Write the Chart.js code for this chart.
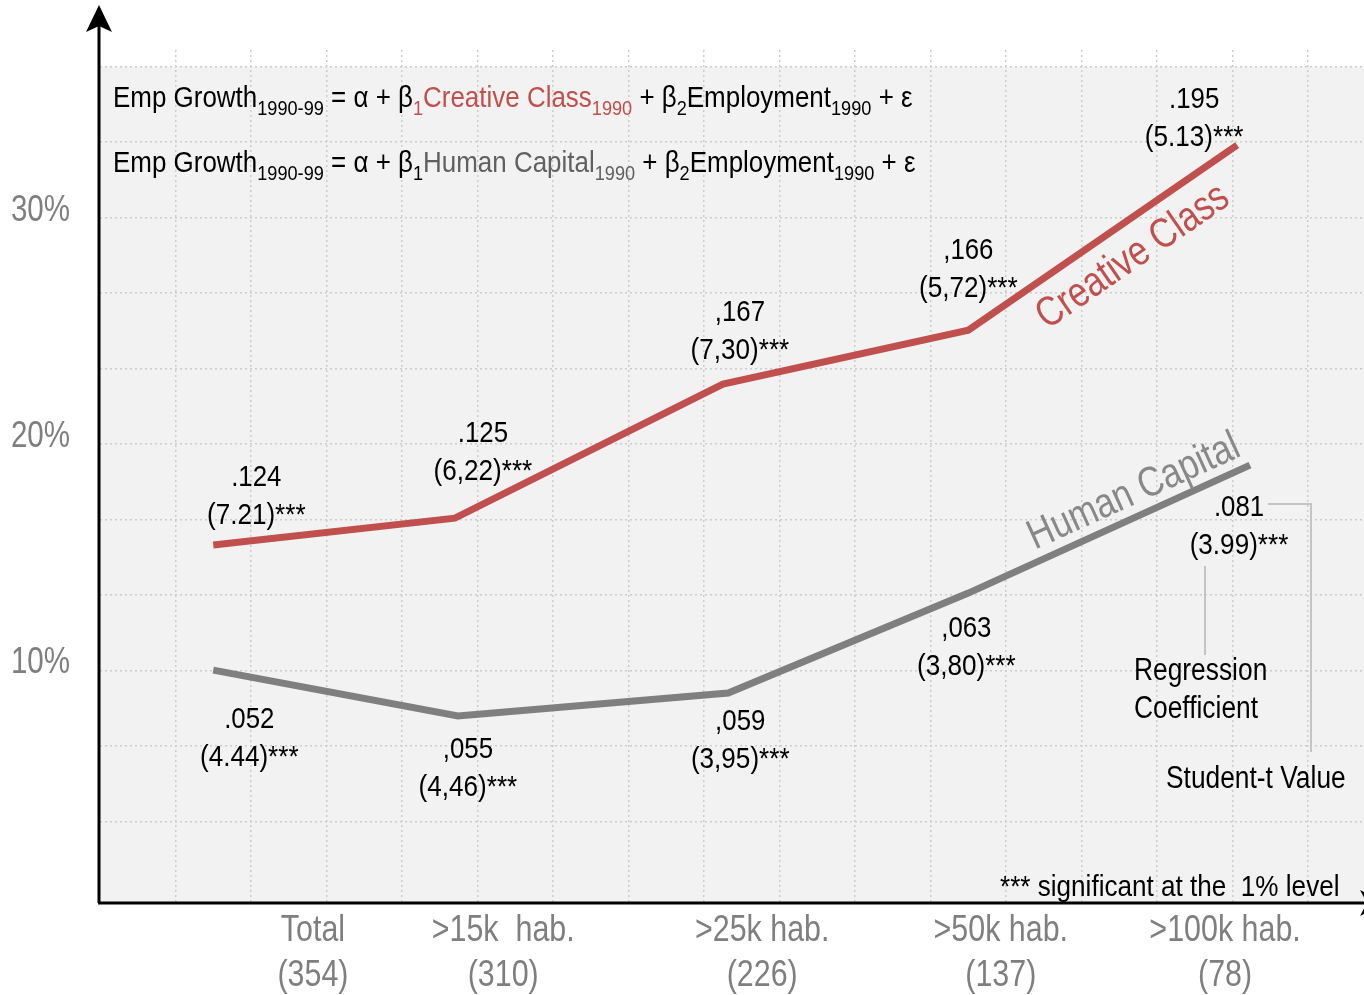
<!DOCTYPE html>
<html><head><meta charset="utf-8">
<script src="https://cdn.jsdelivr.net/npm/chart.js@4.4.1/dist/chart.umd.min.js"></script>
<style>html,body{margin:0;padding:0;background:#fff}</style>
</head><body>
<canvas id="c" width="1364" height="995"></canvas>
<script>
// ---------- data ----------
const creativeX = [1.50, 4.70, 8.25, 11.50, 15.06];
const creativeY = [15.54, 16.73, 22.65, 25.03, 33.20];
const humanX = [1.50, 4.74, 8.32, 11.50, 15.23];
const humanY = [10.02, 7.99, 9.01, 13.42, 19.07];
const creativeCoef = ['.124', '.125', ',167', ',166', '.195'];
const creativeT = ['(7.21)***', '(6,22)***', '(7,30)***', '(5,72)***', '(5.13)***'];
const humanCoef = ['.052', ',055', ',059', ',063', '.081'];
const humanT = ['(4.44)***', '(4,46)***', '(3,95)***', '(3,80)***', '(3.99)***'];
const categories = [['Total', '(354)'], ['>15k  hab.', '(310)'], ['>25k hab.', '(226)'], ['>50k hab.', '(137)'], ['>100k hab.', '(78)']];
const categoryX = [2.82, 5.34, 8.77, 11.93, 14.90];
const yLabelValues = [10, 20, 30];

// ---------- style / layout ----------
const FONT = '"Liberation Sans", Arial, sans-serif';
const RED = '#c0504d', GREY = '#7f7f7f', GRID = '#cccccc';
const creativeOff = [[43, -67], [28, -84], [17, -71], [0, -79], [-43, -45]];
const humanOff = [[36, 50], [10, 34], [12, 29], [-2, 36], [-11, 43]];
const X_MAX = 16.74, Y_MIN = -0.265, Y_MAX = 37.40, GRID_STEP = 10 / 3;

function txt(ctx, s, x, y, size, color, align, base, narrow) {
  ctx.save();
  ctx.font = size + 'px ' + FONT;
  ctx.fillStyle = color;
  ctx.textAlign = align || 'center';
  ctx.textBaseline = base || 'middle';
  ctx.translate(x, y);
  ctx.scale(narrow || 0.82, 1);
  ctx.fillText(s, 0, 0);
  ctx.restore();
}
function width(ctx, s, size, narrow) {
  ctx.font = size + 'px ' + FONT;
  return ctx.measureText(s).width * narrow;
}

function equation(ctx, x, y, segs) {
  const N = 0.865;
  let cx = x;
  segs.forEach(([s, col, sub]) => {
    const size = sub ? 21 : 30;
    txt(ctx, s, cx, sub ? y + 8 : y, size, col, 'left', 'alphabetic', N);
    cx += width(ctx, s, size, N);
  });
}

const bgPlugin = {
  id: 'bg',
  beforeDraw(chart) {
    const { ctx, chartArea: a, scales } = chart;
    const top = scales.y.getPixelForValue(11 * GRID_STEP);
    ctx.save();
    ctx.fillStyle = '#f2f2f2';
    ctx.fillRect(a.left, top, a.right - a.left, a.bottom - top);
    ctx.restore();
  }
};

const annoPlugin = {
  id: 'anno',
  afterDatasetsDraw(chart) {
    const { ctx, scales } = chart;
    const xs = scales.x, ys = scales.y;
    ctx.save();
    // axes with arrows
    ctx.strokeStyle = '#000'; ctx.fillStyle = '#000'; ctx.lineWidth = 3;
    ctx.beginPath(); ctx.moveTo(99, 903); ctx.lineTo(99, 26); ctx.stroke();
    ctx.beginPath(); ctx.moveTo(99, 5); ctx.lineTo(112, 32); ctx.lineTo(99, 26); ctx.lineTo(86, 32); ctx.closePath(); ctx.fill();
    ctx.beginPath(); ctx.moveTo(98, 903); ctx.lineTo(1375, 903); ctx.stroke();
    ctx.beginPath(); ctx.moveTo(1387, 903); ctx.lineTo(1360, 890); ctx.lineTo(1367, 903); ctx.lineTo(1360, 916); ctx.closePath(); ctx.fill();

    // axis tick labels (positions from the scales)
    yLabelValues.forEach(v => txt(ctx, v + '%', 70, ys.getPixelForValue(v) - 7, 36, GREY, 'right'));
    categories.forEach((c, i) => {
      const px = xs.getPixelForValue(categoryX[i]);
      txt(ctx, c[0], px, 931, 36, GREY, 'center', 'middle', 0.845);
      txt(ctx, c[1], px, 976, 36, GREY, 'center', 'middle', 0.845);
    });

    // point labels
    const lab = (X, Y, off, c1, c2) => {
      for (let i = 0; i < X.length; i++) {
        const px = xs.getPixelForValue(X[i]) + off[i][0];
        const py = ys.getPixelForValue(Y[i]) + off[i][1];
        txt(ctx, c1[i], px, py, 30, '#000', 'center', 'middle', 0.86);
        txt(ctx, c2[i], px, py + 38, 30, '#000', 'center', 'middle', 0.87);
      }
    };
    lab(creativeX, creativeY, creativeOff, creativeCoef, creativeT);
    lab(humanX, humanY, humanOff, humanCoef, humanT);

    // rotated series names
    const rot = (X, Y, s, col, cx, cy) => {
      const n = X.length;
      const x1 = xs.getPixelForValue(X[n - 2]), y1 = ys.getPixelForValue(Y[n - 2]);
      const x2 = xs.getPixelForValue(X[n - 1]), y2 = ys.getPixelForValue(Y[n - 1]);
      ctx.save();
      ctx.translate(cx, cy);
      ctx.rotate(Math.atan2(y2 - y1, x2 - x1));
      txt(ctx, s, 0, 0, 42, col);
      ctx.restore();
    };
    rot(creativeX, creativeY, 'Creative Class', RED, 1133, 257);
    rot(humanX, humanY, 'Human Capital', '#888888', 1134, 492);

    // equations
    equation(ctx, 113, 107, [
      ['Emp Growth', '#000'], ['1990-99', '#000', 1], [' = α + β', '#000'], ['1', RED, 1],
      ['Creative Class', RED], ['1990', RED, 1], [' + β', '#000'], ['2', '#000', 1],
      ['Employment', '#000'], ['1990', '#000', 1], [' + ε', '#000']]);
    equation(ctx, 113, 172, [
      ['Emp Growth', '#000'], ['1990-99', '#000', 1], [' = α + β', '#000'], ['1', '#000', 1],
      ['Human Capital', '#606060'], ['1990', '#606060', 1], [' + β', '#000'], ['2', '#000', 1],
      ['Employment', '#000'], ['1990', '#000', 1], [' + ε', '#000']]);

    // legend explanation
    ctx.strokeStyle = '#c4c4c4'; ctx.lineWidth = 2;
    ctx.beginPath(); ctx.moveTo(1268, 504); ctx.lineTo(1311, 504); ctx.lineTo(1311, 752); ctx.stroke();
    ctx.beginPath(); ctx.moveTo(1205, 566); ctx.lineTo(1205, 655); ctx.stroke();
    txt(ctx, 'Regression', 1134, 671, 31, '#000', 'left', 'middle', 0.85);
    txt(ctx, 'Coefficient', 1134, 709, 31, '#000', 'left', 'middle', 0.85);
    txt(ctx, 'Student-t Value', 1166, 779, 31, '#000', 'left', 'middle', 0.85);
    txt(ctx, '*** significant at the  1% level', 1000, 888, 30, '#000', 'left', 'middle', 0.87);
    ctx.restore();
  }
};

new Chart(document.getElementById('c'), {
  type: 'line',
  data: {
    datasets: [
      { label: 'Creative Class', data: creativeX.map((x, i) => ({ x, y: creativeY[i] })), borderColor: RED, borderWidth: 7, pointRadius: 0, tension: 0, borderJoinStyle: 'miter' },
      { label: 'Human Capital', data: humanX.map((x, i) => ({ x, y: humanY[i] })), borderColor: GREY, borderWidth: 7, pointRadius: 0, tension: 0, borderJoinStyle: 'miter' }
    ]
  },
  options: {
    responsive: false,
    animation: false,
    devicePixelRatio: 1,
    layout: { padding: { top: 50, left: 0, right: 0, bottom: 0 } },
    plugins: { legend: { display: false }, tooltip: { enabled: false } },
    scales: {
      x: {
        type: 'linear', position: 'bottom', min: 0, max: X_MAX,
        afterBuildTicks: s => { s.ticks = []; for (let k = 1; k <= 16; k++) s.ticks.push({ value: k }); },
        afterFit: s => { s.height = 92; },
        ticks: { display: false },
        grid: { color: GRID, lineWidth: 1.5, drawTicks: false },
        border: { display: false, dash: [2, 3] }
      },
      y: {
        type: 'linear', min: Y_MIN, max: Y_MAX,
        afterBuildTicks: s => { s.ticks = []; for (let k = 1; k <= 11; k++) s.ticks.push({ value: k * GRID_STEP }); },
        afterFit: s => { s.width = 100; },
        ticks: { display: false },
        grid: { color: GRID, lineWidth: 1.5, drawTicks: false },
        border: { display: false, dash: [2, 3] }
      }
    }
  },
  plugins: [bgPlugin, annoPlugin]
});
</script>
</body></html>
